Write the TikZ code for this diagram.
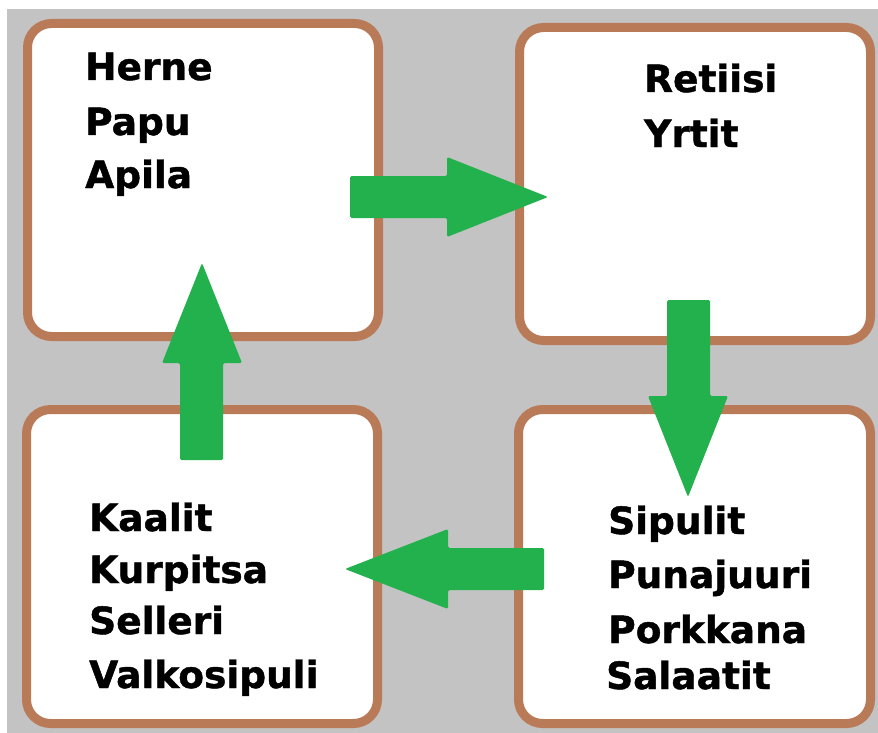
\documentclass[tikz,border=0pt]{standalone}
\usepackage{fontspec}
\newfontfamily\labfont{DejaVu Sans}[BoldFeatures={FakeBold=1.2}]
\definecolor{bggray}{HTML}{C3C3C3}
\definecolor{boxbrown}{HTML}{B97A57}
\definecolor{arrgreen}{HTML}{22B14C}
\begin{document}
\begin{tikzpicture}[x=1pt,y=-1pt,
  box/.style={draw=boxbrown, line width=9pt, fill=white, rounded corners=24pt, rectangle, inner sep=0pt},
  lbl/.style={anchor=base west, inner sep=0pt, font=\labfont\bfseries\fontsize{37.5}{44}\selectfont, text=black},
  blockarrow/.style={fill=arrgreen, rounded corners=1.5pt}]
\useasboundingbox (0,0) rectangle (878,733);
\fill[white] (0,0) rectangle (878,733);
\fill[bggray] (7,9) rectangle (878,733);
% boxes
\node[box, minimum width=351pt, minimum height=313pt] (tl) at (203,180) {};
\node[box, minimum width=351pt, minimum height=313pt] (tr) at (695,184) {};
\node[box, minimum width=351pt, minimum height=314pt] (bl) at (202,566.5) {};
\node[box, minimum width=352pt, minimum height=314pt] (br) at (694.5,566.5) {};
% texts
\node[lbl] (t1) at (85,80) {Herne};
\node[lbl] (t2) at (85,135) {Papu};
\node[lbl] (t3) at (85,188) {Apila};
\node[lbl] (t4) at (644,92) {Retiisi};
\node[lbl] (t5) at (644,147) {Yrtit};
\node[lbl] (t6) at (89,531) {Kaalit};
\node[lbl] (t7) at (89,583) {Kurpitsa};
\node[lbl] (t8) at (89,634) {Selleri};
\node[lbl] (t9) at (89,688) {Valkosipuli};
\node[lbl] (t10) at (608,534) {Sipulit};
\node[lbl] (t11) at (608,588) {Punajuuri};
\node[lbl] (t12) at (608,643) {Porkkana};
\node[lbl] (t13) at (606,689) {Salaatit};
% block arrows
\fill[blockarrow] (350,176) -- (447,176) -- (447,157) -- (548,197) -- (447,237) -- (447,218) -- (350,218) -- cycle;
\fill[blockarrow] (667,300) -- (710,300) -- (710,396) -- (728,396) -- (688,497) -- (648,396) -- (667,396) -- cycle;
\fill[blockarrow] (544,548) -- (544,590) -- (448,590) -- (448,609) -- (345,569) -- (448,529) -- (448,548) -- cycle;
\fill[blockarrow] (180,460) -- (223,460) -- (223,363) -- (242,363) -- (202,263) -- (162,363) -- (180,363) -- cycle;
\end{tikzpicture}
\end{document}
